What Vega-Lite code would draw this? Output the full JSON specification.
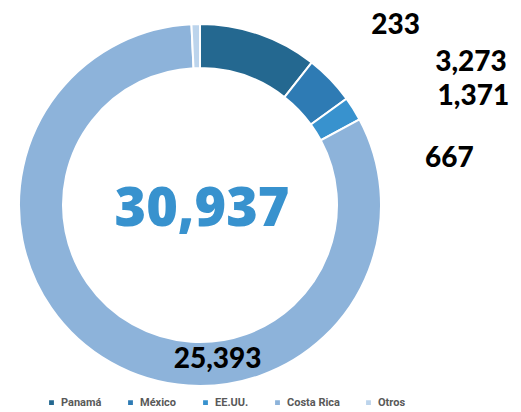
{
  "$schema": "https://vega.github.io/schema/vega-lite/v6.json",
  "width": 400,
  "height": 410,
  "padding": {"left": 0, "top": 0, "right": 121, "bottom": 2},
  "background": "white",
  "config": {"view": {"stroke": null}},
  "data": {"values": [
    {"pais": "Panamá", "valor": 3273, "orden": 1},
    {"pais": "México", "valor": 1371, "orden": 2},
    {"pais": "EE.UU.", "valor": 667, "orden": 3},
    {"pais": "Costa Rica", "valor": 25393, "orden": 4},
    {"pais": "Otros", "valor": 233, "orden": 5}
  ]},
  "layer": [
    {
      "mark": {"type": "arc", "outerRadius": 181, "innerRadius": 137, "stroke": "white", "strokeWidth": 2},
      "encoding": {
        "theta": {"field": "valor", "type": "quantitative", "stack": true},
        "order": {"field": "orden", "type": "quantitative"},
        "color": {
          "field": "pais", "type": "nominal",
          "scale": {"domain": ["Panamá", "México", "EE.UU.", "Costa Rica", "Otros"],
                    "range": ["#246890", "#2e7bb4", "#3892ce", "#8db3da", "#bcd4ec"]},
          "sort": null,
          "legend": {"title": null, "orient": "none", "legendX": 46, "legendY": 397, "direction": "horizontal",
                     "symbolType": "square", "symbolSize": 40, "labelFont": "Roboto", "labelFontWeight": "bold",
                     "labelFontSize": 11, "labelColor": "#595959", "columnPadding": 22, "labelOffset": 4}
        }
      }
    },
    {
      "mark": {"type": "text", "radius": 181, "dx": 212, "dy": 29, "font": "Lato", "fontWeight": 900, "fontSize": 28, "color": "black"},
      "encoding": {
        "theta": {"field": "valor", "type": "quantitative", "stack": true},
        "order": {"field": "orden", "type": "quantitative"},
        "text": {"condition": {"test": "datum.pais === 'Panamá'", "field": "valor", "type": "quantitative", "format": ","}, "value": ""}
      }
    },
    {
      "mark": {"type": "text", "radius": 181, "dx": 143, "dy": 18, "font": "Lato", "fontWeight": 900, "fontSize": 28, "color": "black"},
      "encoding": {
        "theta": {"field": "valor", "type": "quantitative", "stack": true},
        "order": {"field": "orden", "type": "quantitative"},
        "text": {"condition": {"test": "datum.pais === 'México'", "field": "valor", "type": "quantitative", "format": ","}, "value": ""}
      }
    },
    {
      "mark": {"type": "text", "radius": 181, "dx": 96, "dy": 50, "font": "Lato", "fontWeight": 900, "fontSize": 28, "color": "black"},
      "encoding": {
        "theta": {"field": "valor", "type": "quantitative", "stack": true},
        "order": {"field": "orden", "type": "quantitative"},
        "text": {"condition": {"test": "datum.pais === 'EE.UU.'", "field": "valor", "type": "quantitative", "format": ","}, "value": ""}
      }
    },
    {
      "mark": {"type": "text", "radius": 181, "dx": 200, "dy": 2, "font": "Lato", "fontWeight": 900, "fontSize": 28, "color": "black"},
      "encoding": {
        "theta": {"field": "valor", "type": "quantitative", "stack": true},
        "order": {"field": "orden", "type": "quantitative"},
        "text": {"condition": {"test": "datum.pais === 'Otros'", "field": "valor", "type": "quantitative", "format": ","}, "value": ""}
      }
    },
    {
      "mark": {"type": "text", "radius": 159, "dx": 96, "dy": 17, "font": "Lato", "fontWeight": 900, "fontSize": 28, "color": "black"},
      "encoding": {
        "theta": {"field": "valor", "type": "quantitative", "stack": true},
        "order": {"field": "orden", "type": "quantitative"},
        "text": {"condition": {"test": "datum.pais === 'Costa Rica'", "field": "valor", "type": "quantitative", "format": ","}, "value": ""}
      }
    },
    {
      "mark": {"type": "text", "font": "Open Sans", "fontWeight": 800, "fontSize": 54, "color": "#3892ce", "dx": 2, "dy": 5},
      "encoding": {
        "text": {"aggregate": "sum", "field": "valor", "type": "quantitative", "format": ","}
      }
    }
  ]
}
